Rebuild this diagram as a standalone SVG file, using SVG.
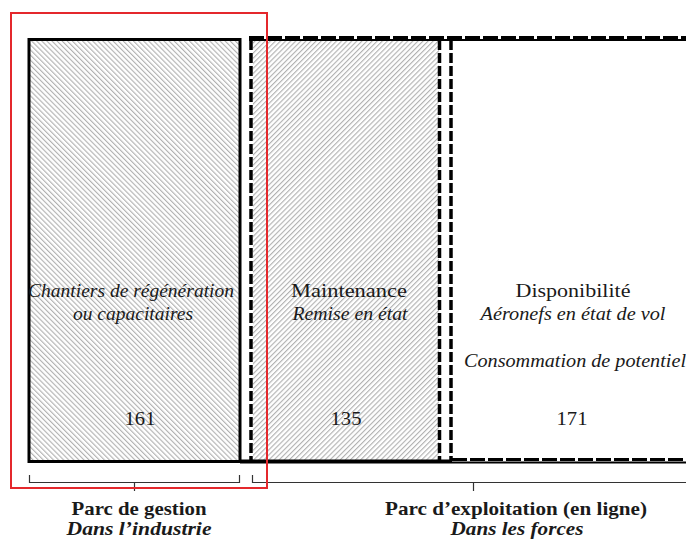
<svg xmlns="http://www.w3.org/2000/svg" width="686" height="540" viewBox="0 0 686 540">
<defs>
<pattern id="hatchB" patternUnits="userSpaceOnUse" width="3.6" height="3.6" patternTransform="rotate(-45)">
<rect width="3.6" height="3.6" fill="#ffffff"/>
<line x1="0.6" y1="0" x2="0.6" y2="3.6" stroke="#a8a8a8" stroke-width="1"/>
</pattern>
<pattern id="hatchF" patternUnits="userSpaceOnUse" width="3.6" height="3.6" patternTransform="rotate(45)">
<rect width="3.6" height="3.6" fill="#ffffff"/>
<line x1="0.6" y1="0" x2="0.6" y2="3.6" stroke="#a8a8a8" stroke-width="1"/>
</pattern>
</defs>
<style>
text{font-family:"Liberation Serif","DejaVu Serif",serif;font-size:19px;fill:#1a1a1a;text-anchor:middle}
.it{font-style:italic}
.b{font-weight:bold}
.dash{stroke:#000;stroke-width:3.5;stroke-dasharray:10 3;fill:none}
.solid{stroke:#000;fill:none}
.br{stroke:#333;stroke-width:1.2;fill:none}
</style>
<rect x="0" y="0" width="686" height="540" fill="#ffffff"/>
<g id="chantiers">
<rect x="29" y="39.5" width="211" height="422" fill="url(#hatchB)" stroke="#000" stroke-width="3"/>
<text x="131" y="297" class="it" textLength="206" lengthAdjust="spacingAndGlyphs">Chantiers de régénération</text>
<text x="133" y="320" class="it" textLength="120" lengthAdjust="spacingAndGlyphs">ou capacitaires</text>
<text x="140" y="425" textLength="31" lengthAdjust="spacingAndGlyphs">161</text>
</g>
<g id="maintenance">
<rect x="253" y="41" width="186" height="419" fill="url(#hatchF)"/>
<line class="dash" x1="251" y1="40" x2="251" y2="460"/>
<line class="dash" x1="439.5" y1="40" x2="439.5" y2="460"/>
<text x="349" y="297" textLength="116" lengthAdjust="spacingAndGlyphs">Maintenance</text>
<text x="350" y="320" class="it" textLength="115" lengthAdjust="spacingAndGlyphs">Remise en état</text>
<text x="346" y="425" textLength="31" lengthAdjust="spacingAndGlyphs">135</text>
</g>
<g id="disponibilite">
<line class="dash" x1="451" y1="40" x2="451" y2="460"/>
<text x="573" y="297" textLength="115" lengthAdjust="spacingAndGlyphs">Disponibilité</text>
<text x="573" y="320" class="it" textLength="185" lengthAdjust="spacingAndGlyphs">Aéronefs en état de vol</text>
<text x="575" y="367" class="it" textLength="222" lengthAdjust="spacingAndGlyphs">Consommation de potentiel</text>
<text x="572" y="425" textLength="31" lengthAdjust="spacingAndGlyphs">171</text>
</g>
<g id="frame">
<line class="solid" x1="249" y1="40" x2="686" y2="40" stroke-width="2"/>
<line x1="249" y1="37.5" x2="686" y2="37.5" stroke="#000" stroke-width="3" stroke-dasharray="15 3"/>
<line class="solid" x1="240" y1="461.5" x2="452" y2="461.5" stroke-width="4"/>
<line class="solid" x1="452" y1="462.5" x2="686" y2="462.5" stroke-width="2"/>
<line x1="452" y1="459.5" x2="686" y2="459.5" stroke="#000" stroke-width="3" stroke-dasharray="15 3"/>
</g>
<g id="connectors">
<path class="br" d="M29.5 475 V482.5 H239.5 V475"/>
<path class="br" d="M134.5 482.5 V491"/>
<path class="br" d="M252.5 475 V482.5 H686"/>
<path class="br" d="M473.5 482.5 V491"/>
</g>
<g id="parc-gestion">
<text x="139" y="515" class="b" textLength="135" lengthAdjust="spacingAndGlyphs">Parc de gestion</text>
<text x="139" y="535" class="b it" textLength="145" lengthAdjust="spacingAndGlyphs">Dans l’industrie</text>
</g>
<g id="parc-exploitation">
<text x="516" y="515" class="b" textLength="262" lengthAdjust="spacingAndGlyphs">Parc d’exploitation (en ligne)</text>
<text x="517" y="535" class="b it" textLength="133" lengthAdjust="spacingAndGlyphs">Dans les forces</text>
</g>
<g id="highlight">
<rect x="11" y="13" width="256" height="475" fill="none" stroke="#e4282c" stroke-width="2"/>
</g>
</svg>
